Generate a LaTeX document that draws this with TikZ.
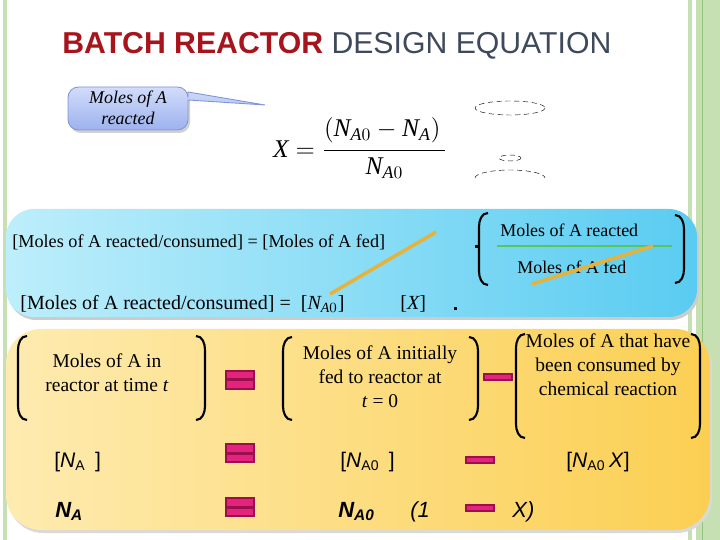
\documentclass[tikz,border=0pt]{standalone}
\usepackage{amsmath}
\usepackage{fontspec}
\setmainfont{Liberation Serif}
\setsansfont{Liberation Sans}
\usepackage{xcolor}
\usepackage{tikz}
\definecolor{stripegreen}{HTML}{C6E0B4}
\definecolor{stripedark}{HTML}{93C47D}
\definecolor{titlered}{HTML}{A8141C}
\definecolor{titlegray}{HTML}{3E4A5C}
\definecolor{calltop}{HTML}{D2DCFA}
\definecolor{callbot}{HTML}{9DB2EE}
\definecolor{callline}{HTML}{7F95D6}
\definecolor{bluel}{HTML}{BDEEFB}
\definecolor{bluer}{HTML}{5ACCF1}
\definecolor{yellowl}{HTML}{FEEBB0}
\definecolor{yellowr}{HTML}{FBCF52}
\definecolor{eqdark}{HTML}{9C0F4E}
\definecolor{eqpink}{HTML}{E3237C}
\definecolor{strike}{HTML}{E6B23A}
\definecolor{fracgreen}{HTML}{58C65A}
\def\eqsign(#1,#2){\begin{scope}[shift={(#1,#2)}]\fill[eqdark] (-15,-10) rectangle (15,10); \fill[eqpink] (-13,-8) rectangle (13,-1.5); \fill[eqpink] (-13,1.5) rectangle (13,8);\end{scope}}
\def\minsign(#1,#2){\begin{scope}[shift={(#1,#2)}]\fill[eqdark] (-15,-4) rectangle (15,4); \fill[eqpink] (-13,-2) rectangle (13,2);\end{scope}}
\def\lparen(#1,#2,#3){\draw[paren] (#1+9,#2) to[out=180,in=90] (#1,#2+14) -- (#1,#3-14) to[out=-90,in=180] (#1+9,#3)}
\def\rparen(#1,#2,#3){\draw[paren] (#1-9,#2) to[out=0,in=90] (#1,#2+14) -- (#1,#3-14) to[out=-90,in=0] (#1-9,#3)}
\newcommand{\iNA}[1]{\textit{N}_{\textit{A}#1}}

\begin{document}
\begin{tikzpicture}[x=0.02cm,y=-0.02cm,
    paren/.style={line width=1.2pt,black},
    txt/.style={anchor=base west,inner sep=0pt},
    slide/.style={font=\fontsize{11.1}{13.6}\selectfont,align=center},
    sym/.style={txt,font=\sffamily\fontsize{12}{14}\selectfont},
    boldsym/.style={txt,font=\sffamily\bfseries\itshape\fontsize{12.5}{14}\selectfont}]
        \useasboundingbox (0,0) rectangle (720,540);

        %%% STRIPES %%%
        \fill[stripegreen] (3,0) rectangle (7,540);
        \fill[stripegreen] (688,0) rectangle (692,540);
        \fill[stripegreen] (696,0) rectangle (720,540);
        \fill[stripedark] (702,0) rectangle (703,540);

        %%% TITLE %%%
        \node[txt,font=\sffamily\fontsize{17.2}{20}\selectfont] (title) at (62,54)
            {\textcolor{titlered}{\bfseries BATCH REACTOR} \textcolor{titlegray}{DESIGN EQUATION}};

        %%% CALLOUT %%%
        \fill[black!18,rounded corners=6] (70,90) rectangle (190,133);
        \shade[top color=calltop,bottom color=callbot,draw=callline,line width=0.5pt]
            (128,87) [rounded corners=6] -- (188,87) [sharp corners] -- (188,92) -- (265,105) -- (188,100)
            [rounded corners=6] -- (188,130) -- (68,130) -- (68,87) -- cycle;
        \node[font=\itshape\fontsize{10.2}{11.8}\selectfont,align=center] (callout) at (128,108) {Moles of A\\reacted};

        %%% CONVERSION %%%
        \node[font=\fontsize{14.5}{16}\selectfont] (xdef) at (360,148)
            {$\textit{X} = \dfrac{\left(\iNA{0} - \iNA{}\right)\rule[-6pt]{0pt}{10pt}}{\iNA{0}}$};
        \draw[densely dashed,line width=0.25pt] (510,108) ellipse (35 and 7);
        \draw[densely dashed,line width=0.25pt] (510,158) ellipse (11 and 3);
        \draw[densely dashed,line width=0.25pt] (475,178) arc (180:360:35 and 8);

        %%% BLUE BOX %%%
        \fill[black!20,rounded corners=16] (8,212) rectangle (699,320);
        \shade[left color=bluel,right color=bluer,rounded corners=16] (6,209) rectangle (697,317);
        \node[txt,font=\fontsize{10.35}{12}\selectfont] (fedline) at (12,248)
            {[Moles of A reacted/consumed] = [Moles of A fed]};
        \fill (474.5,245.5) rectangle (477.5,248.5);
        \lparen(479,213,285);
        \rparen(684,215,283);
        \node[txt,font=\fontsize{10.2}{12}\selectfont] (reacted) at (500,237) {Moles of A reacted};
        \node[txt,font=\fontsize{10.2}{12}\selectfont] (fed) at (517,274) {Moles of A fed};
        \draw[fracgreen,line width=1.5pt] (497,246) coordinate (barl) -- (672,246) coordinate (barr);
        \draw[strike,line width=2pt] (330,294) -- (436,232);
        \draw[strike,line width=2pt] (532,284) -- (653,246);
        \node[txt,font=\fontsize{11.4}{13}\selectfont] (n0line) at (20,310)
            {[Moles of A reacted/consumed] = \ [$\iNA{0}$]};
        \node[txt,font=\fontsize{11.4}{13}\selectfont] (xline) at (400,310) {[$\textit{X}$]};
        \fill (453.5,307.5) rectangle (456.5,310.5);

        %%% YELLOW BOX %%%
        \fill[black!15,rounded corners=20] (8,332) rectangle (712,533);
        \shade[left color=yellowl,right color=yellowr,rounded corners=20] (6,329) rectangle (710,530);

        \lparen(18,336,420);
        \rparen(205,336,420);
        \node[slide] (inA) at (107,373) {Moles of A in\\reactor at time \textit{t}};
        \eqsign(240,380);
        \lparen(283,337,420);
        \rparen(478,337,420);
        \node[slide] (initA) at (380,377) {Moles of A initially\\fed to reactor at\\\textit{t} = 0};
        \minsign(498,377);
        \lparen(516,334,438);
        \rparen(700,334,438);
        \node[slide] (consA) at (608,365) {Moles of A that have\\been consumed by\\chemical reaction};

        %%% SYMBOLS %%%
        \node[sym] (na) at (54,467) {[\textit{N}\textsubscript{A}\ \,]};
        \eqsign(240,453);
        \node[sym] (na0) at (340,467) {[\textit{N}\textsubscript{A0}\ \,]};
        \minsign(480,460);
        \node[sym] (na0x) at (566,467) {[\textit{N}\textsubscript{A0}\,\textit{X}]};

        \node[boldsym] (nab) at (55,517) {N\textsubscript{A}};
        \eqsign(240,507);
        \node[boldsym] (na0b) at (338,517) {N\textsubscript{A0}};
        \node[sym,font=\sffamily\itshape\fontsize{12.5}{14}\selectfont] (one) at (410,517) {(1};
        \minsign(480,508);
        \node[sym,font=\sffamily\itshape\fontsize{12.5}{14}\selectfont] (xb) at (512,517) {X)};
\end{tikzpicture}
\end{document}
